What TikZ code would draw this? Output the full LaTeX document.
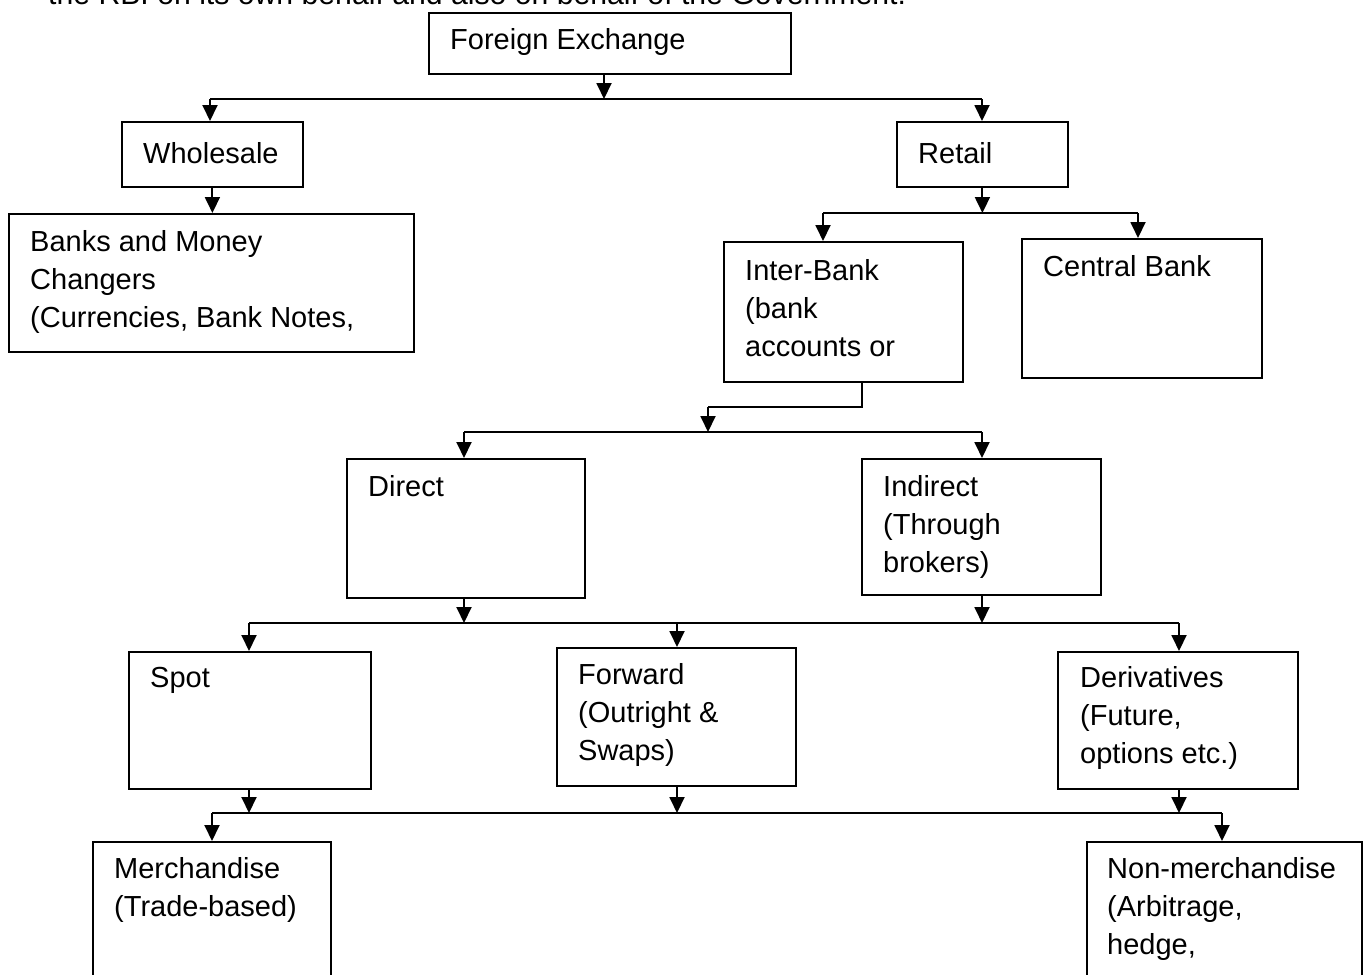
\documentclass[tikz,border=0pt]{standalone}
\usepackage{fontspec}
\setmainfont{Liberation Sans}
\usetikzlibrary{arrows.meta}
\begin{document}
\begin{tikzpicture}[x=1pt,y=-1pt,
  box/.style={draw, line width=1.8pt, inner sep=0pt, anchor=north west},
  txt/.style={inner sep=0pt, anchor=north west, align=left,
    font=\fontsize{29}{37.8}\selectfont},
  link/.style={line width=1.9pt},
  arr/.style={line width=1.9pt, -{Triangle[width=15pt,length=16pt]}}]
\useasboundingbox (0,0) rectangle (1364,974);
\clip (0,0) rectangle (1364,974);

% running text of the page above the chart
\node[inner sep=0pt, anchor=base west, font=\fontsize{30.2}{37.8}\selectfont] (para) at (48,5)
  {the RBI on its own behalf and also on behalf of the Government.};

% boxes
\node[box, minimum width=362pt, minimum height=61pt]  (fe)    at (428,12)  {};
\node[box, minimum width=181pt, minimum height=65pt]  (ws)    at (121,121) {};
\node[box, minimum width=405pt, minimum height=138pt] (banks) at (8,213)   {};
\node[box, minimum width=171pt, minimum height=65pt]  (rt)    at (896,121) {};
\node[box, minimum width=239pt, minimum height=140pt] (ib)    at (723,241) {};
\node[box, minimum width=240pt, minimum height=139pt] (cb)    at (1021,238) {};
\node[box, minimum width=238pt, minimum height=139pt] (dir)   at (346,458) {};
\node[box, minimum width=239pt, minimum height=136pt] (ind)   at (861,458) {};
\node[box, minimum width=242pt, minimum height=137pt] (spot)  at (128,651) {};
\node[box, minimum width=239pt, minimum height=138pt] (fwd)   at (556,647) {};
\node[box, minimum width=240pt, minimum height=137pt] (der)   at (1057,651) {};
\node[box, minimum width=238pt, minimum height=180pt] (mer)   at (92,841)  {};
\node[box, minimum width=275pt, minimum height=180pt] (nmer)  at (1086,841) {};

% labels, set at the top left of each box
\node[txt] (fe-t)    at (450,23)   {\strut Foreign Exchange};
\node[txt] (ws-t)    at (143,137)  {\strut Wholesale};
\node[txt] (banks-t) at (30,225)   {\strut Banks and Money\\Changers\\(Currencies, Bank Notes,};
\node[txt] (rt-t)    at (918,137)  {\strut Retail};
\node[txt] (ib-t)    at (745,254)  {\strut Inter-Bank\\(bank\\accounts or};
\node[txt] (cb-t)    at (1043,250) {\strut Central Bank};
\node[txt] (dir-t)   at (368,470)  {\strut Direct};
\node[txt] (ind-t)   at (883,470)  {\strut Indirect\\(Through\\brokers)};
\node[txt] (spot-t)  at (150,661)  {\strut Spot};
\node[txt] (fwd-t)   at (578,658)  {\strut Forward\\(Outright \&\\Swaps)};
\node[txt] (der-t)   at (1080,661) {\strut Derivatives\\(Future,\\options etc.)};
\node[txt] (mer-t)   at (114,852)  {\strut Merchandise\\(Trade-based)};
\node[txt] (nmer-t)  at (1107,852) {\strut Non-merchandise\\(Arbitrage,\\hedge,};

% junction points of the connector bars
\coordinate (j1)  at (604,99);
\coordinate (j1l) at (210,99);
\coordinate (j1r) at (982,99);
\coordinate (j2l) at (823,213);
\coordinate (j2r) at (1138,213);
\coordinate (ibk) at (862,407);
\coordinate (j3)  at (708,407);
\coordinate (j3l) at (464,432);
\coordinate (j3r) at (982,432);
\coordinate (j4l) at (249,623);
\coordinate (j4m) at (677,623);
\coordinate (j4r) at (1179,623);
\coordinate (j5l) at (212,813);
\coordinate (j5r) at (1222,813);

% Foreign Exchange -> Wholesale / Retail
\draw[arr]  (fe.south -| j1) -- (j1);
\draw[link] (j1l) -- (j1r);
\draw[arr]  (j1l) -- (j1l |- ws.north);
\draw[arr]  (j1r) -- (j1r |- rt.north);

% Wholesale -> Banks and Money Changers
\draw[arr]  (ws.south) -- (ws.south |- banks.north);

% Retail -> Inter-Bank / Central Bank
\draw[arr]  (rt.south) -- (rt.south |- j2l);
\draw[link] (j2l) -- (j2r);
\draw[arr]  (j2l) -- (j2l |- ib.north);
\draw[arr]  (j2r) -- (j2r |- cb.north);

% Inter-Bank -> Direct / Indirect
\draw[link] (ib.south -| ibk) -- (ibk) -- (j3);
\draw[arr]  (j3) -- (j3 |- j3l);
\draw[link] (j3l) -- (j3r);
\draw[arr]  (j3l) -- (j3l |- dir.north);
\draw[arr]  (j3r) -- (j3r |- ind.north);

% Direct / Indirect -> Spot / Forward / Derivatives
\draw[arr]  (dir.south -| j3l) -- (j3l |- j4l);
\draw[arr]  (ind.south -| j3r) -- (j3r |- j4l);
\draw[link] (j4l) -- (j4r);
\draw[arr]  (j4l) -- (j4l |- spot.north);
\draw[arr]  (j4m) -- (j4m |- fwd.north);
\draw[arr]  (j4r) -- (j4r |- der.north);

% Spot / Forward / Derivatives -> Merchandise / Non-merchandise
\draw[arr]  (spot.south -| j4l) -- (j4l |- j5l);
\draw[arr]  (fwd.south -| j4m) -- (j4m |- j5l);
\draw[arr]  (der.south -| j4r) -- (j4r |- j5l);
\draw[link] (j5l) -- (j5r);
\draw[arr]  (j5l) -- (j5l |- mer.north);
\draw[arr]  (j5r) -- (j5r |- nmer.north);
\end{tikzpicture}
\end{document}
